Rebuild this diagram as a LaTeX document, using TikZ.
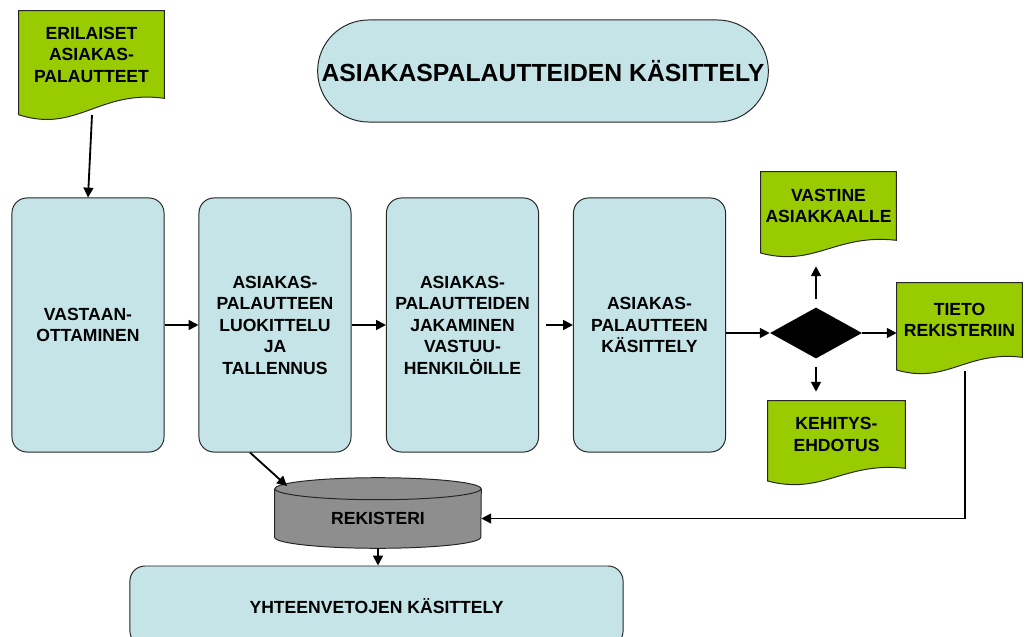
\documentclass[tikz,border=0pt]{standalone}
\usepackage{fontspec}
\setsansfont{Liberation Sans}
\usepackage{tikz}
\usetikzlibrary{
  positioning,
  calc,
  arrows.meta,
  shapes.geometric,
  shapes.misc,
  backgrounds
}
\definecolor{procBlue}{HTML}{C5E4E7}
\definecolor{docGreen}{HTML}{99CC00}
\definecolor{dbGray}{HTML}{8E8E8E}
\newcommand{\boxfont}{\sffamily\bfseries\fontsize{12.5}{15.3}\selectfont}
\tikzstyle{arr}=[-{Triangle[length=7pt,width=7pt]}, line width=1.3pt]
\tikzstyle{edge}=[draw=black!85, line width=0.7pt]
\tikzstyle{process}=[rectangle, rounded corners=0.375cm, edge, fill=procBlue,
  minimum width=3.8cm, minimum height=6.35cm, align=center, font=\boxfont]
\tikzstyle{title}=[rounded rectangle, edge, fill=procBlue, minimum width=11.5cm,
  minimum height=2.55cm, font=\sffamily\bfseries\fontsize{17.6}{20}\selectfont]
\tikzstyle{doc}=[rectangle, align=center, inner sep=0pt, font=\boxfont]
\tikzstyle{decision}=[diamond, fill=black, minimum width=2.3cm, minimum height=1.275cm, inner sep=0pt]
\tikzstyle{dbase}=[rectangle, minimum width=5.15cm, minimum height=1.475cm, font=\boxfont]

% dokumentin aaltoileva alareuna
\newcommand{\docwave}[2]{%
  \begin{scope}[on background layer]
    \draw[edge, fill=docGreen] (#1.north west) -- (#1.north east) -- (#1.south east)
      .. controls ($(#1.south east)!0.45!(#1.south west)+(0,-0.4*#2)$)
      and ($(#1.south west)!0.4!(#1.south east)+(0,1.6*#2)$)
      .. ($(#1.south west)+(0,0.75*#2)$) -- cycle;
  \end{scope}}

\begin{document}
\begin{tikzpicture}[x=0.025cm, y=-0.025cm]
  \path[use as bounding box, clip] (0,0) rectangle (1025,637);

  % otsikko
  \node[title] (otsikko) at (543,71) {ASIAKASPALAUTTEIDEN KÄSITTELY};

  % syöte
  \node[doc, minimum width=3.625cm, minimum height=2.175cm] (erilaiset) at (91.5,54.5)
    {ERILAISET\\ASIAKAS-\\PALAUTTEET};
  \docwave{erilaiset}{22}

  % prosessin vaiheet
  \node[process] (vastaanotto) at (88,325) {VASTAAN-\\OTTAMINEN};
  \node[process] (luokittelu) at (275,325) {ASIAKAS-\\PALAUTTEEN\\LUOKITTELU\\JA\\TALLENNUS};
  \node[process] (jakaminen) at (462.5,325) {ASIAKAS-\\PALAUTTEIDEN\\JAKAMINEN\\VASTUU-\\HENKILÖILLE};
  \node[process] (kasittely) at (649.5,325) {ASIAKAS-\\PALAUTTEEN\\KÄSITTELY};

  % päätös
  \node[decision] (paatos) at (816,333) {};

  % tulosteet
  \node[doc, minimum width=3.375cm, minimum height=1.7cm] (vastine) at (828.5,206)
    {VASTINE\\ASIAKKAALLE};
  \docwave{vastine}{17}
  \node[doc, minimum width=3.425cm, minimum height=1.675cm] (kehitys) at (836.5,434.5)
    {KEHITYS-\\EHDOTUS};
  \docwave{kehitys}{17}
  \node[doc, minimum width=3.125cm, minimum height=1.85cm] (tieto) at (959.5,320)
    {TIETO\\REKISTERIIN};
  \docwave{tieto}{17}

  % rekisteri (sylinteri)
  \node[dbase] (rekisteri) at (378,518.5) {REKISTERI};
  \begin{scope}[on background layer]
    \draw[edge, fill=dbGray] (rekisteri.north west) -- ([yshift=0.275cm]rekisteri.south west)
      arc[start angle=180, end angle=360, x radius=2.575cm, y radius=0.275cm]
      -- (rekisteri.north east);
    \draw[edge, fill=dbGray] (rekisteri.north) ellipse[x radius=2.575cm, y radius=0.275cm];
  \end{scope}

  % yhteenvedot
  \node[process, minimum width=12.325cm, minimum height=2cm] (yhteenveto) at (376.5,606)
    {YHTEENVETOJEN KÄSITTELY};

  % nuolet
  \coordinate (eril-out) at (92,115);
  \coordinate (tieto-out) at (965,371);
  \coordinate (rek-in) at (287,486);
  \draw[arr] (eril-out) -- (vastaanotto.north);
  \draw[arr] (vastaanotto) -- (luokittelu);
  \draw[arr] (luokittelu) -- (jakaminen);
  \draw[arr, shorten <=0.175cm] (jakaminen) -- (kasittely);
  \draw[arr] (kasittely.east |- paatos) -- (paatos.west);
  \draw[arr] (paatos.east) -- (paatos.east -| tieto.west);
  \draw[arr, shorten <=0.2cm, shorten >=0.65cm] (paatos.north) -- (paatos |- vastine.south);
  \draw[arr, shorten <=0.2cm, shorten >=0.225cm] (paatos.south) -- (paatos |- kehitys.north);
  \draw[arr] (tieto-out) |- (rekisteri.east);
  \draw[arr] ([xshift=-0.625cm]luokittelu.south) -- (rek-in);
  \draw[arr] (rekisteri.south) -- (rekisteri.south |- yhteenveto.north);
\end{tikzpicture}
\end{document}
